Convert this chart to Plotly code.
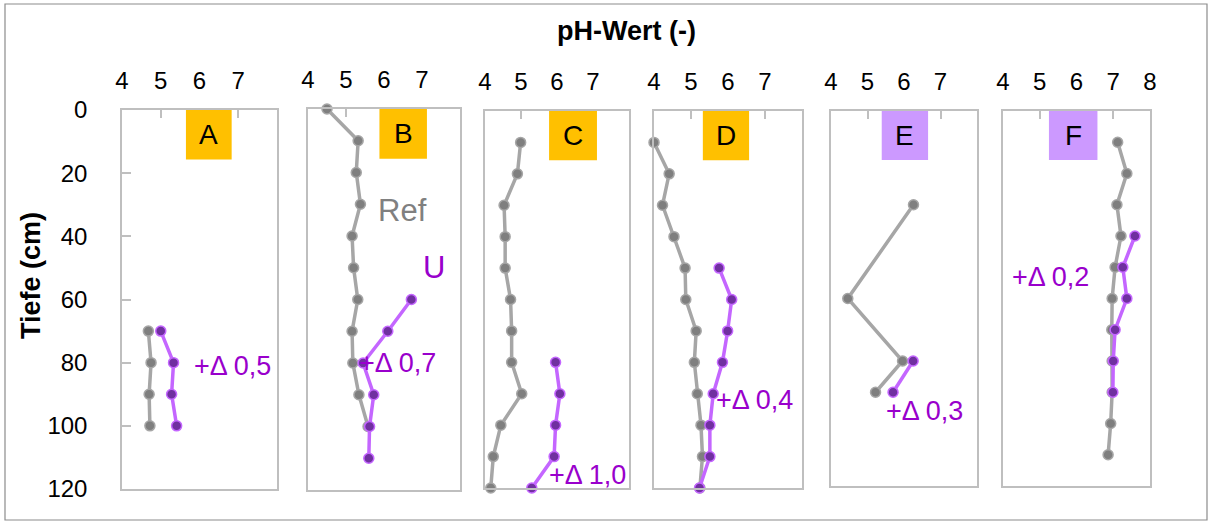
import plotly.graph_objects as go

W, H = 1211, 524

panels = ["A", "B", "C", "D", "E", "F"]
label_colors = ["#FFC000", "#FFC000", "#FFC000", "#FFC000", "#CC99FF", "#CC99FF"]

ref_depth = {
    "A": [70, 80, 90, 100],
    "B": [0, 10, 20, 30, 40, 50, 60, 70, 80, 90, 100],
    "C": [10, 20, 30, 40, 50, 60, 70, 80, 90, 100, 110, 120],
    "D": [10, 20, 30, 40, 50, 60, 70, 80, 90, 100, 110, 120],
    "E": [30, 60, 80, 90],
    "F": [10, 20, 30, 40, 50, 60, 70, 80, 90, 100, 110],
}
ref_ph = {
    "A": [4.68, 4.75, 4.70, 4.72],
    "B": [4.50, 5.32, 5.27, 5.38, 5.16, 5.20, 5.31, 5.16, 5.18, 5.34, 5.58],
    "C": [4.99, 4.90, 4.53, 4.56, 4.56, 4.71, 4.74, 4.74, 5.02, 4.44, 4.23, 4.16],
    "D": [4.00, 4.41, 4.23, 4.54, 4.84, 4.86, 5.14, 5.09, 5.17, 5.27, 5.31, 5.24],
    "E": [6.26, 4.46, 5.96, 5.22],
    "F": [7.12, 7.37, 7.10, 7.21, 7.05, 6.97, 6.96, 6.97, 6.97, 6.93, 6.86],
}
u_depth = {
    "A": [70, 80, 90, 100],
    "B": [60, 70, 80, 90, 100, 110],
    "C": [80, 90, 100, 110, 120],
    "D": [50, 60, 70, 80, 90, 100, 110, 120],
    "E": [80, 90],
    "F": [40, 50, 60, 70, 80, 90],
}
u_ph = {
    "A": [5.00, 5.33, 5.28, 5.41],
    "B": [6.72, 6.10, 5.45, 5.73, 5.62, 5.60],
    "C": [5.96, 6.08, 5.96, 5.92, 5.30],
    "D": [5.76, 6.10, 5.99, 5.85, 5.60, 5.51, 5.51, 5.23],
    "E": [6.25, 5.70],
    "F": [7.59, 7.26, 7.37, 7.05, 7.00, 6.99],
}
delta_text = {"A": "+Δ 0,5", "B": "+Δ 0,7", "C": "+Δ 1,0",
              "D": "+Δ 0,4", "E": "+Δ 0,3", "F": "+Δ 0,2"}
delta_pos = {"A": (5.80, 81), "B": (5.30, 80), "C": (5.72, 116),
             "D": (5.62, 92), "E": (5.44, 96), "F": (4.19, 53)}
label_box_x = {"A": (5.65, 6.83), "B": (5.88, 7.13), "C": (5.78, 7.11),
               "D": (5.32, 6.57), "E": (5.39, 6.66), "F": (5.25, 6.57)}

x_ticks_default = [4, 5, 6, 7]
x_ticks_f = [4, 5, 6, 7, 8]
y_ticks = [0, 20, 40, 60, 80, 100, 120]

# panel boxes in pixels (left, right, top, bottom)
boxes = {
    "A": (122, 277, 110, 489),
    "B": (308, 460, 109, 490),
    "C": (485, 629, 111, 488),
    "D": (654, 802, 111, 488),
    "E": (831, 977, 111, 486),
    "F": (1003, 1150, 111, 486),
}

GRAY_LINE = "#A6A6A6"
GRAY_MARK = "#7F7F7F"
PURP_LINE = "#C466FF"
PURP_MARK = "#7030A0"
PURP_TEXT = "#9900CC"
FONT = "Liberation Sans, Arial, sans-serif"

fig = go.Figure()
layout = dict(
    width=W, height=H,
    margin=dict(l=0, r=0, t=0, b=0, pad=0, autoexpand=False),
    paper_bgcolor="white", plot_bgcolor="white",
    showlegend=False,
    font=dict(family=FONT, size=24, color="black"),
)
shapes = []
annotations = []

for i, p in enumerate(panels, start=1):
    xa = "x" if i == 1 else f"x{i}"
    ya = "y" if i == 1 else f"y{i}"
    l, r, t, b = boxes[p]
    fig.add_trace(go.Scatter(
        x=ref_ph[p], y=ref_depth[p], xaxis=xa, yaxis=ya, mode="lines+markers",
        line=dict(color=GRAY_LINE, width=3.5),
        marker=dict(color=GRAY_MARK, size=10, line=dict(color=GRAY_LINE, width=1.5)),
        cliponaxis=False,
    ))
    fig.add_trace(go.Scatter(
        x=u_ph[p], y=u_depth[p], xaxis=xa, yaxis=ya, mode="lines+markers",
        line=dict(color=PURP_LINE, width=3.5),
        marker=dict(color=PURP_MARK, size=10, line=dict(color=PURP_LINE, width=1.5)),
        cliponaxis=False,
    ))
    xt = x_ticks_f if p == "F" else x_ticks_default
    layout["xaxis" if i == 1 else f"xaxis{i}"] = dict(
        domain=[l / W, r / W], anchor=ya, range=[4, 8], side="top",
        tickvals=xt, ticktext=[str(v) for v in xt],
        ticks="inside", ticklen=8, tickcolor="#BFBFBF", tickwidth=1.5,
        ticklabelstandoff=10, automargin=False,
        showline=True, mirror=True, linecolor="#BFBFBF", linewidth=1.5,
        showgrid=False, zeroline=False, fixedrange=True,
        tickfont=dict(size=24, color="black", family=FONT),
    )
    ydict = dict(
        domain=[1 - b / H, 1 - t / H], anchor=xa, range=[120, 0],
        showline=True, mirror=True, linecolor="#BFBFBF", linewidth=1.5,
        showgrid=False, zeroline=False, fixedrange=True, automargin=False,
    )
    if i == 1:
        ydict.update(tickvals=y_ticks, ticktext=[str(v) for v in y_ticks],
                     ticks="inside", ticklen=9, tickcolor="#BFBFBF", tickwidth=1.5,
                     ticklabelstandoff=28,
                     tickfont=dict(size=24, color="black", family=FONT))
    else:
        ydict.update(showticklabels=False, ticks="")
    layout["yaxis" if i == 1 else f"yaxis{i}"] = ydict

    x0, x1 = label_box_x[p]
    shapes.append(dict(type="rect", xref=xa, yref=ya, x0=x0, x1=x1, y0=0, y1=15.7,
                       fillcolor=label_colors[i - 1], line=dict(width=0), layer="above"))
    annotations.append(dict(xref=xa, yref=ya, x=(x0 + x1) / 2, y=7.85, text=p,
                            showarrow=False, font=dict(size=28, color="black")))
    dx, dy = delta_pos[p]
    annotations.append(dict(xref=xa, yref=ya, x=dx, y=dy, text=delta_text[p],
                            xanchor="left", yanchor="middle", showarrow=False,
                            font=dict(size=27, color=PURP_TEXT)))

annotations.append(dict(xref="x2", yref="y2", x=5.80, y=32, text="Ref",
                        xanchor="left", yanchor="middle", showarrow=False,
                        font=dict(size=31, color="#808080")))
annotations.append(dict(xref="x2", yref="y2", x=6.97, y=50, text="U",
                        xanchor="left", yanchor="middle", showarrow=False,
                        font=dict(size=31, color=PURP_TEXT)))
annotations.append(dict(xref="paper", yref="paper", x=626 / W, y=1 - 31 / H,
                        text="<b>pH-Wert (-)</b>", showarrow=False,
                        xanchor="center", yanchor="middle",
                        font=dict(size=27, color="black")))
annotations.append(dict(xref="paper", yref="paper", x=31 / W, y=1 - 276 / H,
                        text="<b>Tiefe (cm)</b>", showarrow=False, textangle=-90,
                        xanchor="center", yanchor="middle",
                        font=dict(size=27, color="black")))

shapes.append(dict(type="rect", xref="paper", yref="paper",
                   x0=5 / W, x1=1207 / W, y0=1 - 520 / H, y1=1 - 4 / H,
                   line=dict(color="#8C8C8C", width=1.2), fillcolor="rgba(0,0,0,0)",
                   layer="below"))

layout["shapes"] = shapes
layout["annotations"] = annotations
fig.update_layout(**layout)
fig.write_html("out.html", config={"displayModeBar": False},
               post_script="document.body.style.margin='0px';document.body.style.padding='0px';")
